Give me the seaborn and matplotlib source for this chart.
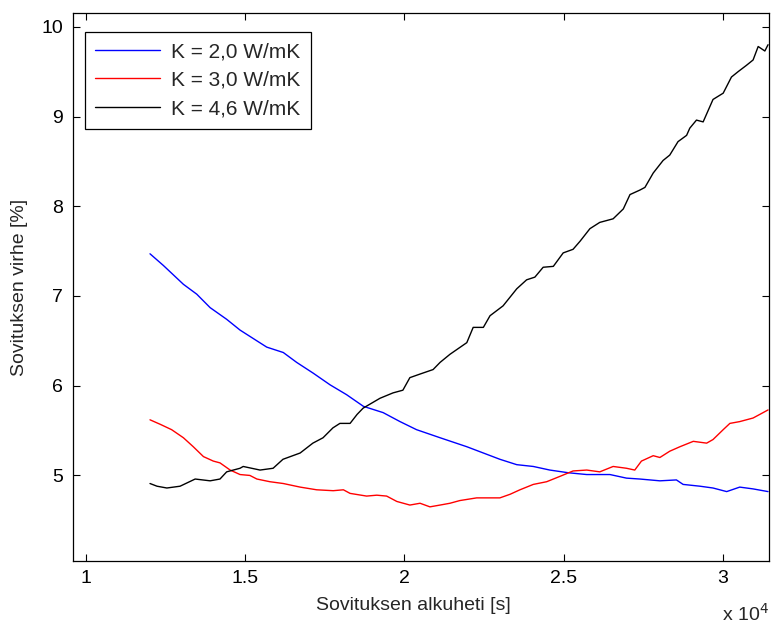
import matplotlib
matplotlib.use("Agg")
import matplotlib.pyplot as plt
from matplotlib.ticker import FuncFormatter
import numpy as np
import pandas as pd
import seaborn as sns

# values (x in seconds, y in %)
x_k20 = [12000, 12420, 13050, 13470, 13890, 14410, 14830, 15360, 15670, 16190,
         16610, 17130, 17660, 18180, 18710, 19330, 19860, 20380, 21120, 21960,
         22480, 23000, 23530, 24050, 24570, 25150, 25730, 26460, 26980, 27400,
         28030, 28550, 28760, 29290, 29700, 30130, 30540, 30960, 31430]
y_k20 = [7.47, 7.34, 7.13, 7.02, 6.87, 6.74, 6.62, 6.50, 6.43, 6.37,
         6.26, 6.14, 6.01, 5.90, 5.77, 5.70, 5.60, 5.51, 5.42, 5.32,
         5.25, 5.18, 5.12, 5.10, 5.06, 5.03, 5.01, 5.01, 4.97, 4.96,
         4.94, 4.95, 4.90, 4.88, 4.86, 4.82, 4.87, 4.85, 4.82]

x_k30 = [12000, 12320, 12680, 13050, 13360, 13680, 13990, 14200, 14520, 14830,
         15140, 15360, 15770, 16190, 16720, 17240, 17760, 18080, 18290, 18810,
         19130, 19440, 19760, 20170, 20490, 20800, 21120, 21430, 21740, 22270,
         22580, 23000, 23320, 23630, 24050, 24470, 24890, 25300, 25730, 26140,
         26560, 26980, 27240, 27450, 27820, 28030, 28340, 28660, 29080, 29500,
         29700, 30020, 30230, 30540, 30960, 31170, 31430]
y_k30 = [5.62, 5.57, 5.51, 5.42, 5.32, 5.21, 5.16, 5.14, 5.06, 5.01,
         5.00, 4.96, 4.93, 4.91, 4.87, 4.84, 4.83, 4.84, 4.80, 4.77,
         4.78, 4.77, 4.71, 4.67, 4.69, 4.65, 4.67, 4.69, 4.72, 4.75,
         4.75, 4.75, 4.79, 4.84, 4.90, 4.93, 4.99, 5.05, 5.06, 5.04,
         5.10, 5.08, 5.06, 5.16, 5.22, 5.20, 5.27, 5.32, 5.38, 5.36,
         5.40, 5.51, 5.58, 5.60, 5.64, 5.68, 5.73]

x_k46 = [12000, 12220, 12530, 12945, 13420, 13890, 14200, 14410, 14830, 14930,
         15460, 15870, 16180, 16720, 17120, 17440, 17750, 17970, 18290, 18510,
         18700, 19230, 19640, 19950, 20170, 20490, 20900, 21120, 21430, 21960,
         22160, 22480, 22690, 23100, 23530, 23840, 24100, 24360, 24680, 24990,
         25300, 25520, 25830, 26140, 26350, 26560, 26880, 27090, 27400, 27560,
         27820, 28130, 28340, 28600, 28870, 28970, 29180, 29390, 29700, 30020,
         30280, 30490, 30750, 30960, 31120, 31330, 31430]
y_k46 = [4.91, 4.88, 4.86, 4.88, 4.96, 4.94, 4.96, 5.04, 5.08, 5.10,
         5.06, 5.08, 5.18, 5.25, 5.36, 5.42, 5.53, 5.58, 5.58, 5.68,
         5.75, 5.86, 5.92, 5.95, 6.09, 6.13, 6.18, 6.26, 6.35, 6.48,
         6.65, 6.65, 6.78, 6.89, 7.08, 7.18, 7.21, 7.32, 7.33, 7.48,
         7.52, 7.61, 7.75, 7.82, 7.84, 7.86, 7.97, 8.13, 8.18, 8.21,
         8.37, 8.51, 8.57, 8.72, 8.79, 8.87, 8.96, 8.94, 9.19, 9.26,
         9.44, 9.50, 9.57, 9.63, 9.78, 9.73, 9.80]

labels = ["K = 2,0 W/mK", "K = 3,0 W/mK", "K = 4,6 W/mK"]
colors = ["#0000ff", "#ff0000", "#000000"]

df = pd.concat([
    pd.DataFrame({"t": x_k20, "err": y_k20, "K": labels[0]}),
    pd.DataFrame({"t": x_k30, "err": y_k30, "K": labels[1]}),
    pd.DataFrame({"t": x_k46, "err": y_k46, "K": labels[2]}),
])

sns.set_theme(style="ticks")
plt.rcParams["font.family"] = ["Liberation Sans", "DejaVu Sans"]

fig = plt.figure(figsize=(7.72, 6.25), dpi=100)
ax = fig.add_axes([0.0946, 0.1029, 0.9015, 0.8758])

sns.lineplot(data=df, x="t", y="err", hue="K", palette=colors,
             estimator=None, sort=False, linewidth=1.0, ax=ax)

ax.set_xlim(9580, 31460)
ax.set_ylim(4.05, 10.15)
ax.set_xticks([10000, 15000, 20000, 25000, 30000])
ax.set_yticks([5, 6, 7, 8, 9, 10])
ax.xaxis.set_major_formatter(FuncFormatter(lambda v, p: "%g" % (v / 1e4)))
ax.tick_params(which="both", direction="in", length=5, width=0.8,
               top=True, right=True, labelsize=14, colors="black", pad=7)
for s in ax.spines.values():
    s.set_visible(True)
    s.set_linewidth(0.9)
    s.set_color("black")

ax.set_xlabel("Sovituksen alkuheti [s]", fontsize=14)
ax.xaxis.set_label_coords(0.489, -0.066)
ax.set_ylabel("Sovituksen virhe [%]", fontsize=14, labelpad=10)
ax.text(1.0, -0.11, r"x 10$^{4}$", transform=ax.transAxes, ha="right",
        va="baseline", fontsize=14)

handles, _ = ax.get_legend_handles_labels()
leg = ax.legend(handles, labels, loc="upper left",
                bbox_to_anchor=(0.0172, 0.966), borderaxespad=0,
                fancybox=False, framealpha=1, edgecolor="black",
                fontsize=15, handlelength=3.1, handletextpad=0.55,
                labelspacing=0.45, borderpad=0.5)
leg.get_frame().set_linewidth(0.9)

fig.savefig("out.png", dpi=100)
